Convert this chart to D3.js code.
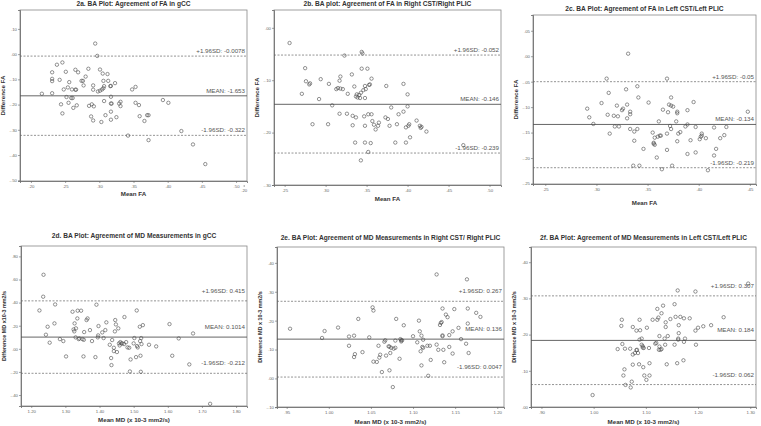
<!DOCTYPE html>
<html><head><meta charset="utf-8">
<script src="https://cdn.jsdelivr.net/npm/d3@7/dist/d3.min.js"></script>
<style>body{margin:0;background:#fff}svg{display:block}text{font-family:"Liberation Sans",Arial,sans-serif}</style>
</head><body><svg id="c" width="761" height="426"></svg>
<script>
// ---- Panel 2a: FA gCC ----
const faGccMean = [.216,.231,.231,.231,.231,.238,.242,.246,.244,.246,.248,.251,.252,.254,.255,.256,.259,.260,.261,.262,.265,.265,.266,.267,.269,.274,.276,.277,.280,.284,.285,.288,.289,.291,.291,.291,.292,.294,.297,.298,.301,.301,.303,.304,.305,.306,.306,.307,.307,.309,.312,.313,.316,.317,.317,.317,.317,.317,.318,.323,.325,.329,.331,.331,.342,.348,.353,.353,.358,.359,.366,.370,.372,.372,.393,.401,.420,.437,.455];
const faGccDiff = [-.157,-.072,-.098,-.107,-.155,-.042,-.102,-.033,-.199,-.235,-.140,-.070,-.170,-.132,-.193,-.111,-.174,-.140,-.174,-.213,-.141,-.062,-.141,-.203,-.072,-.106,-.106,-.124,-.089,-.058,-.205,-.247,-.199,-.263,-.124,-.141,-.207,.042,-.007,-.148,-.145,-.061,-.269,-.140,-.077,-.106,-.135,-.127,-.186,-.242,-.079,-.106,-.127,-.126,-.169,-.196,-.228,-.260,-.196,-.115,-.250,-.196,-.189,-.206,-.323,-.140,-.130,-.193,-.202,-.246,-.265,-.242,-.242,-.341,-.182,-.193,-.305,-.358,-.436];
// ---- Panel 2b: FA Right CST/PLIC ----
const faRightMean = [.256,.275,.276,.280,.281,.271,.284,.292,.294,.303,.304,.308,.313,.315,.317,.317,.318,.318,.321,.323,.326,.327,.332,.333,.333,.335,.336,.337,.337,.338,.339,.341,.342,.343,.343,.344,.344,.345,.346,.347,.348,.348,.348,.348,.349,.351,.352,.352,.353,.354,.355,.356,.356,.357,.359,.361,.364,.365,.374,.373,.376,.378,.380,.385,.387,.389,.395,.395,.398,.398,.400,.400,.401,.402,.403,.411,.415,.416,.417,.423,.468];
const faRightDiff = [-.029,-.077,-.102,-.108,-.106,-.126,-.184,-.136,-.098,-.184,-.107,-.148,-.117,-.115,-.101,-.164,-.093,-.116,-.117,-.053,-.164,-.126,-.089,-.168,-.186,-.112,-.219,-.131,-.171,-.127,-.133,-.128,-.134,-.253,-.124,-.078,-.046,-.049,-.119,-.169,-.134,-.111,-.219,-.187,-.117,-.078,-.165,-.237,-.109,-.108,-.220,-.097,-.165,-.178,-.185,-.194,-.187,-.181,-.111,-.171,-.174,-.187,-.152,-.219,-.184,-.165,-.160,-.107,-.219,-.190,-.127,-.150,-.187,-.184,-.209,-.177,-.187,-.191,-.189,-.198,-.224];
// ---- Panel 2c: FA Left CST/PLIC ----
const faLeftMean = [.291,.293,.297,.305,.310,.311,.312,.313,.317,.318,.320,.321,.322,.325,.326,.329,.330,.330,.331,.333,.333,.333,.336,.337,.337,.340,.340,.341,.342,.346,.351,.355,.356,.356,.357,.357,.359,.360,.361,.362,.364,.363,.365,.369,.369,.369,.370,.371,.372,.373,.373,.373,.374,.375,.378,.379,.379,.379,.380,.382,.387,.389,.389,.389,.392,.395,.397,.397,.401,.402,.403,.403,.407,.409,.415,.415,.417,.421,.425,.427,.448];
const faLeftDiff = [-.103,-.120,-.133,-.092,-.044,-.115,-.072,-.152,-.117,-.138,-.097,-.118,-.138,-.106,-.103,-.065,-.122,-.095,.005,-.109,-.114,-.143,-.215,-.148,-.166,-.143,-.059,-.081,-.215,-.182,-.091,-.150,-.170,-.172,-.160,-.174,-.199,-.158,-.128,-.156,-.222,-.156,-.105,-.152,-.044,-.184,-.110,-.095,-.137,-.081,-.143,-.097,-.215,-.099,-.128,-.167,-.109,-.112,-.152,-.149,-.138,-.106,-.134,-.192,-.165,-.090,-.139,-.189,-.163,-.158,-.156,-.152,-.161,-.224,-.140,-.195,-.182,-.161,-.155,-.139,-.109];
// ---- Panel 2d: MD gCC ----
const mdGccMean = [1.224,1.236,1.235,1.243,1.248,1.254,1.268,1.270,1.284,1.294,1.302,1.321,1.324,1.326,1.327,1.330,1.331,1.335,1.336,1.339,1.341,1.346,1.350,1.353,1.354,1.355,1.362,1.365,1.372,1.378,1.388,1.391,1.395,1.397,1.396,1.408,1.412,1.417,1.420,1.430,1.434,1.435,1.437,1.442,1.442,1.445,1.446,1.448,1.451,1.455,1.457,1.459,1.461,1.464,1.467,1.472,1.473,1.478,1.482,1.487,1.489,1.491,1.500,1.502,1.507,1.509,1.510,1.512,1.518,1.519,1.520,1.521,1.522,1.523,1.527,1.545,1.566,1.605,1.613,1.632,1.663,1.674,1.724];
const mdGccDiff = [.332,.641,.451,.122,.191,.053,.220,.384,.084,.067,-.066,.321,.168,.151,.220,.099,.177,.263,.330,.084,.090,.330,.084,-.066,.078,.145,.249,.263,.162,.067,-.072,.382,.099,.197,.116,.142,.093,.162,.229,.035,-.080,-.141,.076,.009,-.020,.151,.249,.211,-.028,.177,.047,.029,.058,.047,.047,.041,.275,.058,.012,.009,-.196,-.092,.047,.093,-.072,.332,.024,.012,.191,.067,-.060,-.199,.093,.041,.205,.035,.021,.214,-.060,.090,-.135,.133,-.476];
// ---- Panel 2e: MD Right CST/PLIC ----
const mdRightMean = [.954,.992,.995,1.011,1.024,1.024,1.030,1.030,1.031,1.035,1.040,1.048,1.052,1.053,1.053,1.057,1.059,1.060,1.061,1.063,1.066,1.067,1.068,1.071,1.072,1.072,1.073,1.074,1.076,1.077,1.079,1.079,1.080,1.084,1.085,1.086,1.086,1.087,1.089,1.100,1.105,1.107,1.108,1.109,1.110,1.110,1.112,1.111,1.112,1.117,1.118,1.120,1.121,1.128,1.128,1.130,1.132,1.133,1.134,1.135,1.135,1.135,1.136,1.137,1.139,1.141,1.143,1.143,1.147,1.147,1.149,1.154,1.157,1.163,1.164,1.166,1.165,1.165,1.175,1.180];
const mdRightDiff = [.172,.140,.164,.176,.113,.145,.148,.074,.084,.206,.091,.142,.246,.235,.058,.057,.113,.072,.082,.022,.127,.132,.079,.111,.028,.110,.088,.106,-.030,.103,.131,.106,.206,.068,.136,.132,.128,.132,.184,.146,.125,.200,.163,.094,.045,.148,.134,.109,.106,.113,.009,.113,.064,.117,.360,.099,.185,.192,.195,.146,.149,.242,.099,.056,.221,.212,.109,.150,.086,.163,.240,.175,.136,.120,.343,.088,.242,.190,.227,.213];
// ---- Panel 2f: MD Left CST/PLIC ----
const mdLeftMean = [.998,1.046,1.053,1.054,1.055,1.057,1.059,1.060,1.061,1.070,1.071,1.073,1.075,1.075,1.075,1.079,1.082,1.082,1.083,1.085,1.087,1.088,1.088,1.089,1.092,1.092,1.094,1.094,1.095,1.096,1.097,1.101,1.102,1.106,1.107,1.107,1.113,1.118,1.120,1.122,1.122,1.124,1.125,1.126,1.126,1.128,1.130,1.130,1.133,1.136,1.137,1.138,1.138,1.140,1.142,1.147,1.155,1.155,1.157,1.160,1.161,1.162,1.162,1.163,1.163,1.166,1.172,1.173,1.173,1.175,1.184,1.195,1.195,1.196,1.200,1.210,1.225,1.249,1.296];
const mdLeftDiff = [.033,.160,.224,.241,.174,.087,.104,.161,.061,.161,.054,.070,.145,.117,.221,.149,.211,.157,.158,.149,.118,.241,.186,.212,.189,.172,.168,.164,.110,.163,.087,.075,.219,.163,.087,.121,.241,.175,.177,.241,.271,.247,.158,.196,.167,.158,.160,.259,.280,.189,.172,.234,.221,.118,.196,.243,.284,.172,.249,.121,.322,.189,.186,.226,.204,.249,.129,.180,.245,.189,.245,.319,.211,.172,.219,.223,.226,.248,.341];

// ---- Titles, axis labels, ticks, limits ----
const titles = ["2a. BA Plot: Agreement of FA in gCC","2b. BA plot: Agreement of FA in Right CST/Right PLIC","2c. BA Plot: Agreement of FA in Left CST/Left PLIC","2d. BA Plot: Agreement of MD Measurements in gCC","2e. BA Plot: Agreement of MD Measurements in Right CST/ Right PLIC","2f. BA Plot: Agreement of MD Measurements in Left CST/Left PLIC"];
const xLabels = ["Mean FA","Mean FA","Mean FA","Mean MD (x 10-3 mm2/s)","Mean MD (x 10-3 mm2/s)","Mean MD (x 10-3 mm2/s)"];
const yLabels = ["Difference FA","Difference FA","Difference FA","Difference MD x10-3 mm2/s","Difference MD x 10-3 mm2/s","Difference MD x 10-3 mm2/s"];
const xTicksFA = [.20,.25,.30,.35,.40,.45,.50];
const xTickLabelsFA = [".20",".25",".30",".35",".40",".45",".50"];
const xTicksFAc = [.25,.30,.35,.40,.45];
const xTickLabelsFAc = [".25",".30",".35",".40",".45"];
const yTicksA = [.10,0,-.10,-.20,-.30,-.40,-.50];
const yTickLabelsA = [".10",".00","-.10","-.20","-.30","-.40","-.50"];
const yTicksB = [0,-.10,-.20,-.30];
const yTickLabelsB = [".00","-.10","-.20","-.30"];
const yTicksC = [.05,0,-.05,-.10,-.15,-.20,-.25];
const yTickLabelsC = [".05",".00","-.05","-.10","-.15","-.20","-.25"];
const xTicksD = [1.20,1.30,1.40,1.50,1.60,1.70,1.80];
const xTickLabelsD = ["1.20","1.30","1.40","1.50","1.60","1.70","1.80"];
const yTicksD = [.80,.60,.40,.20,0,-.20,-.40];
const yTickLabelsD = [".80",".60",".40",".20",".00","-.20","-.40"];
const xTicksE = [.95,1.00,1.05,1.10,1.15,1.20];
const xTickLabelsE = [".95","1.00","1.05","1.10","1.15","1.20"];
const yTicksE = [.40,.30,.20,.10,0,-.10];
const yTickLabelsE = [".40",".30",".20",".10",".00","-.10"];
const xTicksF = [.90,1.00,1.10,1.20,1.30];
const xTickLabelsF = [".90","1.00","1.10","1.20","1.30"];
const yTicksF = [.40,.30,.20,.10,0];
const yTickLabelsF = [".40",".30",".20",".10",".00"];
// limits: [upper, mean, lower]
const limitsA = [-0.0078,-0.1653,-0.322], limitLabelsA = ["+1.96SD: -0.0078","MEAN: -1.653","-1.96SD: -0.322"];
const limitsB = [-0.052,-0.146,-0.239], limitLabelsB = ["+1.96SD: -0.052","MEAN: -0.146","-1.96SD: -0.239"];
const limitsC = [-0.05,-0.134,-0.219], limitLabelsC = ["+1.96SD: -0.05","MEAN: -0.134","-1.96SD: -0.219"];
const limitsD = [0.415,0.1014,-0.212], limitLabelsD = ["+1.96SD: 0.415","MEAN: 0.1014","-1.96SD: -0.212"];
const limitsE = [0.267,0.136,0.0047], limitLabelsE = ["+1.96SD: 0.267","MEAN: 0.136","-1.96SD: 0.0047"];
const limitsF = [0.307,0.184,0.062], limitLabelsF = ["+1.96SD: 0.307","MEAN: 0.184","-1.96SD: 0.062"];
// axis ranges shown
const xDomA=[0.184,0.516], yDomA=[-0.503,0.175];
const xDomB=[0.237,0.514], yDomB=[-0.30,0.034];
const xDomC=[0.238,0.456], yDomC=[-0.251,0.081];
const xDomD=[1.170,1.832], yDomD=[-0.495,0.89];
const xDomE=[0.9385,1.208], yDomE=[-0.099,0.455];
const xDomF=[0.880,1.311], yDomF=[0,0.442];

const panels = [
 {box:{l:20,r:247,t:10,b:181}, mx:faGccMean, dy:faGccDiff, xd:xDomA, yd:yDomA, xt:xTicksFA, xtl:xTickLabelsFA, yt:yTicksA, ytl:yTickLabelsA, lim:limitsA, liml:limitLabelsA, titleY:6, lblOff:3, xlabY:196},
 {box:{l:274,r:501,t:10,b:185}, mx:faRightMean, dy:faRightDiff, xd:xDomB, yd:yDomB, xt:xTicksFA, xtl:xTickLabelsFA, yt:yTicksB, ytl:yTickLabelsB, lim:limitsB, liml:limitLabelsB, titleY:6, lblOff:3, xlabY:201},
 {box:{l:533,r:756,t:15,b:184}, mx:faLeftMean, dy:faLeftDiff, xd:xDomC, yd:yDomC, xt:xTicksFAc, xtl:xTickLabelsFAc, yt:yTicksC, ytl:yTickLabelsC, lim:limitsC, liml:limitLabelsC, titleY:11, lblOff:3, xlabY:205},
 {box:{l:21,r:247,t:246,b:406}, mx:mdGccMean, dy:mdGccDiff, xd:xDomD, yd:yDomD, xt:xTicksD, xtl:xTickLabelsD, yt:yTicksD, ytl:yTickLabelsD, lim:limitsD, liml:limitLabelsD, titleY:238, lblOff:8, xlabY:422},
 {box:{l:277,r:504,t:247,b:407}, mx:mdRightMean, dy:mdRightDiff, xd:xDomE, yd:yDomE, xt:xTicksE, xtl:xTickLabelsE, yt:yTicksE, ytl:yTickLabelsE, lim:limitsE, liml:limitLabelsE, titleY:240, lblOff:8, xlabY:424},
 {box:{l:531,r:756,t:247,b:407}, mx:mdLeftMean, dy:mdLeftDiff, xd:xDomF, yd:yDomF, xt:xTicksF, xtl:xTickLabelsF, yt:yTicksF, ytl:yTickLabelsF, lim:limitsF, liml:limitLabelsF, titleY:240, lblOff:8, xlabY:424}
];

const svg = d3.select("#c");
const axisCol = "#666";
panels.forEach((p,i)=>{
  const b=p.box;
  const x=d3.scaleLinear().domain(p.xd).range([b.l,b.r]);
  const y=d3.scaleLinear().domain(p.yd).range([b.b,b.t]);
  const g=svg.append("g");
  g.append("rect").attr("x",b.l).attr("y",b.t).attr("width",b.r-b.l).attr("height",b.b-b.t)
   .attr("fill","none").attr("stroke","#888").attr("stroke-width",0.8);
  const xa=d3.axisBottom(x).tickValues(p.xt).tickFormat((d,k)=>p.xtl[k]).tickSize(2).tickPadding(1.5);
  const ya=d3.axisLeft(y).tickValues(p.yt).tickFormat((d,k)=>p.ytl[k]).tickSize(2).tickPadding(1);
  const gx=g.append("g").attr("transform",`translate(0,${b.b})`).call(xa);
  const gy=g.append("g").attr("transform",`translate(${b.l},0)`).call(ya);
  [gx,gy].forEach(a=>{
    a.select(".domain").attr("stroke",axisCol).attr("stroke-width",0.8);
    a.selectAll(".tick line").attr("stroke",axisCol).attr("stroke-width",0.6);
    a.selectAll(".tick text").attr("fill","#666").style("font-size","4.3px").style("font-family","Liberation Sans, Arial, sans-serif");
  });
  p.lim.forEach((v,k)=>{
    g.append("line").attr("x1",b.l).attr("x2",b.r).attr("y1",y(v)).attr("y2",y(v))
     .attr("stroke", k===1?"#555":"#666").attr("stroke-width", k===1?0.9:0.7)
     .attr("stroke-dasharray", k===1?null:"2,1.5");
    g.append("text").attr("x",b.r-2).attr("y",y(v)-p.lblOff).attr("text-anchor","end")
     .attr("fill","#555").style("font-size","6.2px").text(p.liml[k]);
  });
  g.selectAll("circle.pt").data(p.mx.map((m,k)=>[m,p.dy[k]])).join("circle")
   .attr("class","pt").attr("cx",d=>x(d[0])).attr("cy",d=>y(d[1])).attr("r",1.7)
   .attr("fill","none").attr("stroke","#4a4a4a").attr("stroke-width",0.6);
  g.append("text").attr("x",(b.l+b.r)/2).attr("y",p.titleY).attr("text-anchor","middle")
   .attr("fill","#333").style("font-size","6.6px").style("font-weight","bold").text(titles[i]);
  g.append("text").attr("x",(b.l+b.r)/2).attr("y",p.xlabY).attr("text-anchor","middle")
   .attr("fill","#333").style("font-size","6.2px").style("font-weight","bold").text(xLabels[i]);
  const yc=(b.t+b.b)/2, xl=b.l-15;
  g.append("text").attr("transform",`translate(${xl},${yc}) rotate(-90)`).attr("text-anchor","middle")
   .attr("fill","#333").style("font-size", i<3?"6.2px":"5.4px").style("font-weight","bold").text(yLabels[i]);
});
</script>
</body></html>
